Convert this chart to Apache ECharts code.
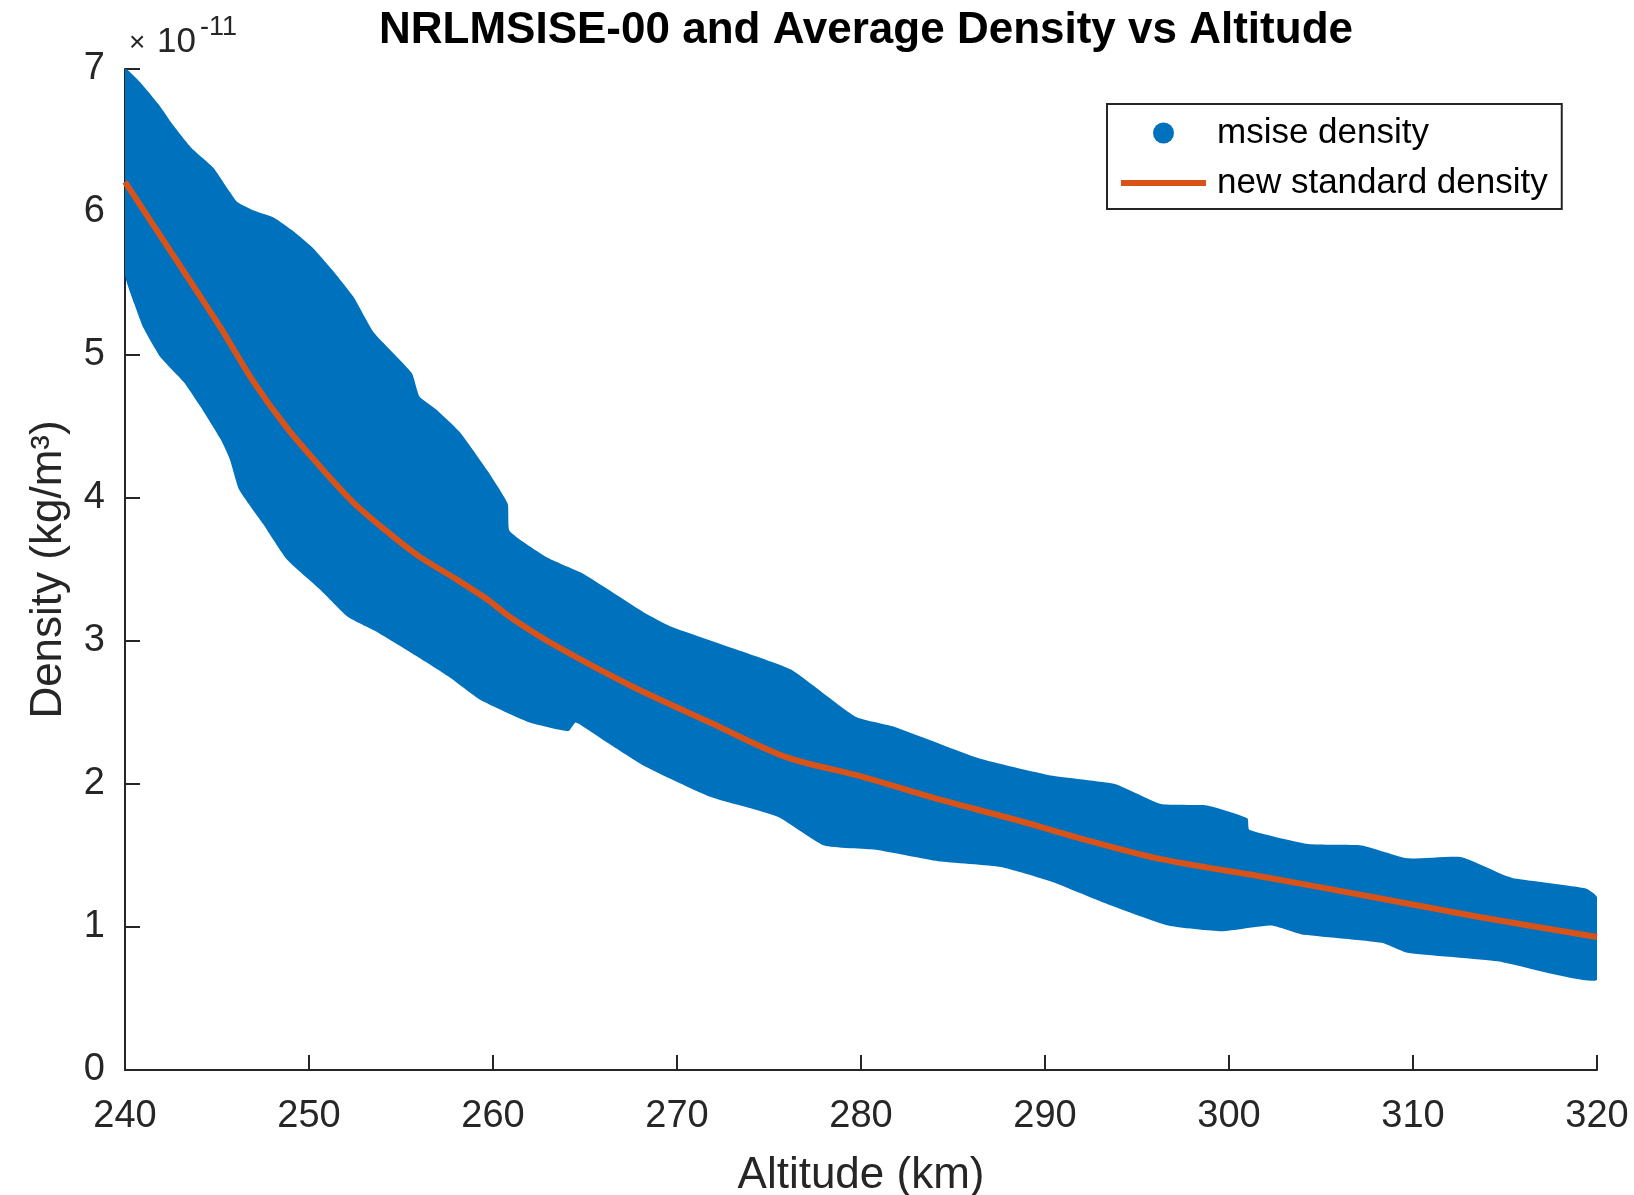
<!DOCTYPE html>
<html>
<head>
<meta charset="utf-8">
<title>NRLMSISE-00 and Average Density vs Altitude</title>
<script src="https://cdn.jsdelivr.net/npm/echarts@6/dist/echarts.min.js"></script>
<style>
  html, body {margin: 0; padding: 0; background: #fff;}
  #chart {width: 1634px; height: 1195px;}
</style>
</head>
<body>
<div id="chart"></div>
<script>
// altitude (km) / density (x1e-11 kg/m^3)
// upper and lower edge of the msise scatter cloud
const msiseUpper = [
  [240, 7.0], [240.8, 6.91], [241.9, 6.74], [242.6, 6.61], [243.6, 6.45], [244.8, 6.31],
  [245.7, 6.14], [246.1, 6.07], [247.0, 6.01], [248.1, 5.96], [249.1, 5.87], [250.2, 5.75],
  [251.3, 5.59], [252.4, 5.41], [253.5, 5.16], [254.6, 5.01], [255.6, 4.87], [256.0, 4.71],
  [256.9, 4.62], [258.2, 4.46], [259.7, 4.19], [260.8, 3.96], [260.9, 3.77], [263.0, 3.58],
  [264.9, 3.47], [268.2, 3.20], [269.7, 3.10], [273.7, 2.92], [276.2, 2.80], [279.7, 2.47],
  [281.8, 2.40], [286.4, 2.18], [290.3, 2.06], [293.8, 2.00], [296.3, 1.86], [298.8, 1.85],
  [301.0, 1.76], [301.1, 1.68], [304.3, 1.58], [307.2, 1.57], [309.7, 1.48], [312.6, 1.49],
  [315.0, 1.36], [315.5, 1.34], [319.4, 1.27], [320, 1.21]
];
const msiseLower = [
  [240, 5.56], [240.5, 5.36], [241.0, 5.19], [241.9, 4.99], [243.2, 4.81], [244.1, 4.64],
  [245.2, 4.41], [245.7, 4.27], [246.2, 4.06], [247.5, 3.82], [248.8, 3.57], [250.6, 3.36],
  [252.1, 3.17], [253.6, 3.07], [255.9, 2.89], [257.6, 2.75], [259.3, 2.59], [262.0, 2.43],
  [264.1, 2.37], [264.5, 2.43], [266.2, 2.29], [268.3, 2.12], [271.8, 1.91], [275.5, 1.77],
  [278.0, 1.57], [280.8, 1.54], [284.2, 1.46], [287.6, 1.42], [290.3, 1.32], [293.2, 1.17],
  [296.7, 1.01], [299.6, 0.97], [302.3, 1.01], [303.9, 0.95], [308.3, 0.89], [309.7, 0.82],
  [314.6, 0.76], [320, 0.63]
];
// new standard (average) density
const standardDensity = [
  [240, 6.21], [242.4, 5.74], [245.2, 5.19], [247.0, 4.81], [248.8, 4.49], [250.6, 4.22],
  [252.4, 3.97], [254.2, 3.77], [256.0, 3.59], [257.9, 3.44], [259.7, 3.29], [260.9, 3.17],
  [263.5, 2.96], [267.6, 2.68], [271.8, 2.43], [275.9, 2.19], [280.1, 2.05], [284.3, 1.89],
  [288.4, 1.75], [290.3, 1.68], [291.9, 1.62], [296.1, 1.48], [301.9, 1.35], [307.8, 1.21],
  [313.6, 1.07], [320, 0.93]
];
const xTicks = [240, 250, 260, 270, 280, 290, 300, 310, 320];
const yTicks = [0, 1, 2, 3, 4, 5, 6, 7];

const font = "'Liberation Sans', Arial, Helvetica, sans-serif";
const axisColor = '#262626';

var chart = echarts.init(document.getElementById('chart'));

// cloud of msise points, drawn as the area between its edges
const renderCloud = (params, api) => {
  const pts = [];
  msiseUpper.forEach((p) => pts.push(api.coord(p)));
  for (let i = msiseLower.length - 1; i >= 0; i--) {
    pts.push(api.coord(msiseLower[i]));
  }
  return {
    type: 'polygon',
    shape: {points: pts, smooth: 0.15},
    style: {fill: '#0072BD'}
  };
};

const option = {
  animation: false,
  title: {
    text: 'NRLMSISE-00 and Average Density vs Altitude',
    left: 861,
    top: 4,
    textAlign: 'center',
    textStyle: {fontFamily: font, fontSize: 44, fontWeight: 'bold', color: '#000'}
  },
  grid: {left: 125, right: 37, top: 69, bottom: 125, containLabel: false, outerBoundsMode: 'none'},
  legend: {
    orient: 'vertical',
    left: 1107,
    top: 104,
    padding: [9, 14, 6, 11],
    itemWidth: 85,
    itemHeight: 21,
    itemGap: 10,
    borderColor: axisColor,
    borderWidth: 2,
    backgroundColor: '#fff',
    textStyle: {fontFamily: font, fontSize: 35, color: '#000', lineHeight: 40, padding: [0, 0, 0, 6]},
    data: [
      {name: 'msise density', icon: 'circle'},
      {name: 'new standard density', itemStyle: {opacity: 0}, lineStyle: {width: 6, color: '#D95319'}}
    ]
  },
  xAxis: {
    type: 'value',
    min: xTicks[0],
    max: xTicks[xTicks.length - 1],
    interval: 10,
    name: 'Altitude (km)',
    nameLocation: 'middle',
    nameGap: 84,
    nameTextStyle: {fontFamily: font, fontSize: 44, color: axisColor},
    axisLine: {show: true, onZero: false, lineStyle: {color: axisColor, width: 2}},
    axisTick: {show: true, inside: true, length: 15, lineStyle: {color: axisColor, width: 2}},
    axisLabel: {fontFamily: font, fontSize: 38, color: axisColor, margin: 28},
    splitLine: {show: false}
  },
  yAxis: {
    type: 'value',
    min: yTicks[0],
    max: yTicks[yTicks.length - 1],
    interval: 1,
    name: 'Density (kg/m³)',
    nameLocation: 'middle',
    nameGap: 54,
    nameTextStyle: {fontFamily: font, fontSize: 44, color: axisColor},
    axisLine: {show: true, lineStyle: {color: axisColor, width: 2}},
    axisTick: {show: true, inside: true, length: 15, lineStyle: {color: axisColor, width: 2}},
    axisLabel: {fontFamily: font, fontSize: 38, color: axisColor, margin: 20},
    splitLine: {show: false}
  },
  graphic: [
    {type: 'text', left: 129, top: 29, style: {text: '×', fontFamily: font, fontSize: 28, fill: axisColor}},
    {type: 'text', left: 157, top: 25, style: {text: '10', fontFamily: font, fontSize: 35, fill: axisColor}},
    {type: 'text', left: 200, top: 14, style: {text: '-11', fontFamily: font, fontSize: 27, fill: axisColor}}
  ],
  series: [
    {
      name: 'msise density',
      type: 'custom',
      renderItem: renderCloud,
      data: [msiseUpper[0]],
      itemStyle: {color: '#0072BD'},
      clip: true,
      z: 2
    },
    {
      name: 'new standard density',
      type: 'line',
      data: standardDensity,
      symbol: 'none',
      smooth: 0.3,
      lineStyle: {color: '#D95319', width: 6},
      itemStyle: {color: '#D95319'},
      z: 3
    }
  ]
};

option && chart.setOption(option);
</script>
</body>
</html>
